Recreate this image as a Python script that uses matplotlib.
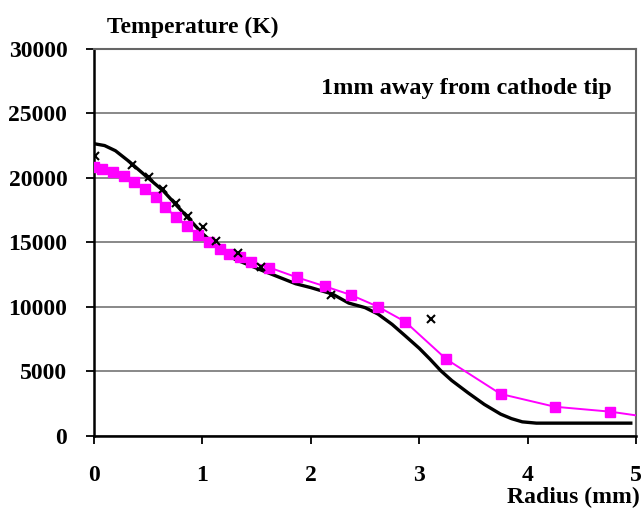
import numpy as np
import matplotlib
matplotlib.use('Agg')
import matplotlib.pyplot as plt

plt.rcParams['font.family'] = ['Liberation Serif', 'DejaVu Serif']
plt.rcParams['font.weight'] = 'bold'

# 计算曲线（黑色实线）
calc_r = [0, 0.1, 0.2, 0.33, 0.5, 0.64, 0.88, 1.0, 1.16, 1.3, 1.53, 1.86, 2.0,
          2.2, 2.35, 2.5, 2.62, 2.75, 2.87, 3.0, 3.1, 3.2, 3.3, 3.45, 3.6,
          3.75, 3.85, 3.95, 4.08, 4.95]
calc_T = [22650, 22500, 22100, 21240, 20000, 19000, 16800, 15700, 14500, 13700,
          12900, 11800, 11500, 11000, 10300, 9950, 9450, 8650, 7770, 6800,
          5950, 5050, 4300, 3350, 2450, 1700, 1350, 1100, 1000, 1000]

# 品红方块 + 线
sq_r = [0, 0.08, 0.18, 0.28, 0.37, 0.47, 0.57, 0.66, 0.76, 0.86, 0.96, 1.06,
        1.16, 1.25, 1.35, 1.45, 1.62, 1.87, 2.13, 2.37, 2.62, 2.87, 3.25,
        3.75, 4.25, 4.76]
sq_T = [20820, 20690, 20440, 20170, 19710, 19140, 18500, 17720, 16950, 16250,
        15580, 15010, 14490, 14100, 13850, 13460, 13050, 12300, 11600, 10930,
        10020, 8860, 5950, 3260, 2270, 1890]
sq_end_r, sq_end_T = 5.0, 1600

# 黑色叉号
x_r = [0.01, 0.35, 0.51, 0.64, 0.76, 0.87, 1.01, 1.13, 1.33, 1.54, 2.19, 3.11]
x_T = [21720, 21030, 20050, 19140, 18060, 17070, 16170, 15140, 14200, 13100,
       10900, 9100]

fig = plt.figure(figsize=(6.42, 5.13), dpi=100)
ax = fig.add_axes([0.146, 0.150, 0.845, 0.755])

ax.yaxis.grid(True, color='#7f7f7f', linewidth=1.3)
ax.set_axisbelow(True)

ax.plot(calc_r, calc_T, color='black', linewidth=2.4, zorder=3,
        solid_joinstyle='round')
ax.plot(sq_r + [sq_end_r], sq_T + [sq_end_T], color='#ff00ff', linewidth=1.4,
        marker='s', markersize=7, markevery=list(range(len(sq_r))), zorder=4)
ax.plot(x_r, x_T, linestyle='none', marker='x', color='black', markersize=6,
        markeredgewidth=1.5, zorder=5)

ax.set_xlim(0, 5)
ax.set_ylim(0, 30000)
ax.set_xticks(range(0, 6))
ax.set_yticks(range(0, 30001, 5000))

for s in ['left', 'bottom']:
    ax.spines[s].set_linewidth(1.8)
    ax.spines[s].set_color('black')
for s in ['top', 'right']:
    ax.spines[s].set_linewidth(1.5)
    ax.spines[s].set_color('#666666')

ax.tick_params(axis='y', direction='out', length=6, width=1.3, pad=13,
               labelsize=17)
ax.tick_params(axis='x', direction='out', length=6, width=1.3, pad=15,
               labelsize=17)
for lab in ax.get_xticklabels() + ax.get_yticklabels():
    lab.set_fontweight('bold')

ax.text(3.43, 26900, '1mm away from cathode tip', ha='center', va='center',
        fontsize=17.5, fontweight='bold')
fig.text(107 / 642, 1 - 27 / 513, 'Temperature (K)', ha='left', va='center',
         fontsize=17, fontweight='bold')
fig.text(640 / 642, 1 - 497 / 513, 'Radius (mm)', ha='right', va='center',
         fontsize=17, fontweight='bold')

fig.savefig('out.png', dpi=100)
